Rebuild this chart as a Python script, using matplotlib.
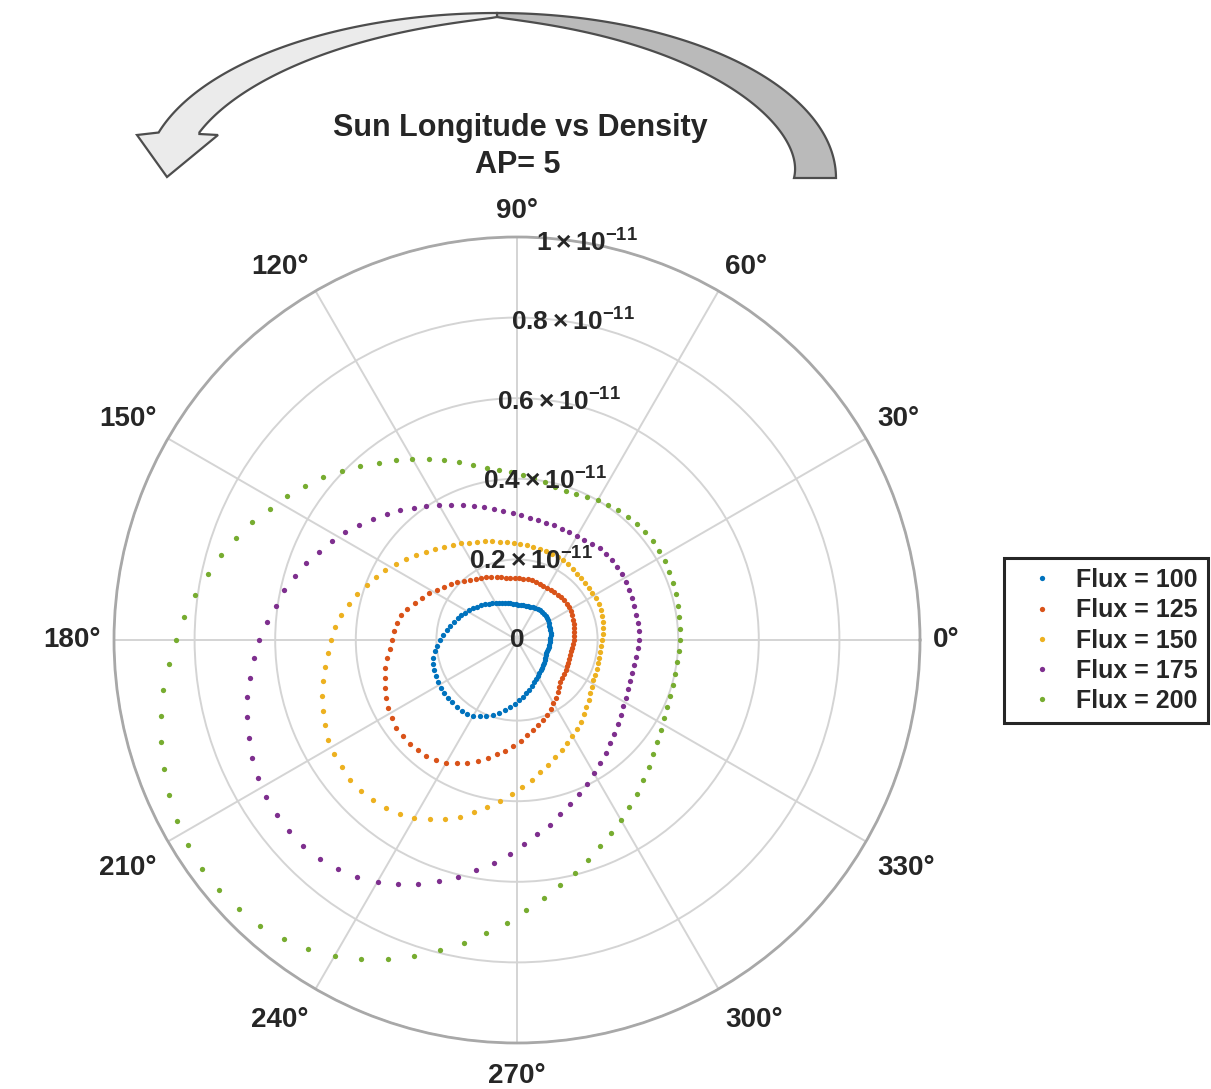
import numpy as np
import matplotlib
matplotlib.use('Agg')
import matplotlib.pyplot as plt
from matplotlib.patches import Polygon

plt.rcParams['font.family'] = ['Liberation Sans', 'DejaVu Sans']
plt.rcParams['mathtext.fontset'] = 'custom'
plt.rcParams['mathtext.rm'] = 'Liberation Sans:bold'
plt.rcParams['mathtext.it'] = 'Liberation Sans:bold'
plt.rcParams['mathtext.bf'] = 'Liberation Sans:bold'
plt.rcParams['mathtext.default'] = 'rm'

TXT = '#262626'

# sun longitude samples (deg), one point every 4 deg
sun_longitude = np.arange(0, 360, 4)

# density in units of 1e-11
flux_100 = [0.082, 0.083, 0.084, 0.085, 0.086, 0.087, 0.088, 0.090, 0.092, 0.093,
            0.094, 0.094, 0.094, 0.094, 0.093, 0.091, 0.090, 0.089, 0.088, 0.088,
            0.088, 0.088, 0.088, 0.089, 0.091, 0.093, 0.095, 0.097, 0.100, 0.102,
            0.106, 0.110, 0.114, 0.119, 0.124, 0.129, 0.134, 0.139, 0.145, 0.151,
            0.156, 0.163, 0.169, 0.176, 0.184, 0.191, 0.199, 0.205, 0.212, 0.216,
            0.219, 0.221, 0.223, 0.223, 0.224, 0.224, 0.223, 0.223, 0.222, 0.221,
            0.217, 0.211, 0.204, 0.196, 0.186, 0.176, 0.166, 0.158, 0.149, 0.141,
            0.134, 0.128, 0.120, 0.113, 0.107, 0.102, 0.098, 0.095, 0.093, 0.090,
            0.087, 0.085, 0.083, 0.081, 0.080, 0.080, 0.080, 0.081, 0.081, 0.081]
flux_125 = [0.141, 0.142, 0.143, 0.145, 0.147, 0.148, 0.150, 0.151, 0.153, 0.153,
            0.153, 0.153, 0.151, 0.150, 0.149, 0.149, 0.150, 0.151, 0.152, 0.153,
            0.153, 0.153, 0.153, 0.154, 0.155, 0.157, 0.160, 0.164, 0.169, 0.174,
            0.179, 0.184, 0.190, 0.197, 0.206, 0.215, 0.223, 0.233, 0.246, 0.258,
            0.270, 0.283, 0.294, 0.301, 0.306, 0.310, 0.316, 0.326, 0.335, 0.342,
            0.349, 0.356, 0.362, 0.367, 0.370, 0.370, 0.370, 0.368, 0.365, 0.359,
            0.351, 0.340, 0.328, 0.315, 0.301, 0.288, 0.277, 0.264, 0.251, 0.238,
            0.228, 0.218, 0.209, 0.200, 0.190, 0.181, 0.174, 0.164, 0.156, 0.150,
            0.146, 0.144, 0.142, 0.140, 0.138, 0.137, 0.136, 0.137, 0.138, 0.140]
flux_150 = [0.212, 0.213, 0.215, 0.217, 0.220, 0.221, 0.222, 0.221, 0.220, 0.220,
            0.220, 0.221, 0.222, 0.224, 0.226, 0.228, 0.230, 0.231, 0.232, 0.233,
            0.235, 0.237, 0.239, 0.242, 0.244, 0.248, 0.252, 0.257, 0.263, 0.269,
            0.277, 0.284, 0.293, 0.303, 0.315, 0.328, 0.341, 0.355, 0.370, 0.383,
            0.397, 0.412, 0.427, 0.440, 0.452, 0.462, 0.470, 0.481, 0.493, 0.504,
            0.512, 0.521, 0.530, 0.535, 0.538, 0.540, 0.539, 0.535, 0.529, 0.520,
            0.509, 0.495, 0.479, 0.461, 0.440, 0.422, 0.402, 0.383, 0.365, 0.349,
            0.333, 0.320, 0.305, 0.295, 0.285, 0.275, 0.267, 0.257, 0.248, 0.239,
            0.232, 0.225, 0.219, 0.214, 0.211, 0.210, 0.209, 0.209, 0.209, 0.210]
flux_175 = [0.303, 0.303, 0.303, 0.303, 0.303, 0.303, 0.305, 0.306, 0.308, 0.308,
            0.308, 0.308, 0.306, 0.303, 0.299, 0.298, 0.297, 0.298, 0.299, 0.300,
            0.303, 0.305, 0.310, 0.315, 0.321, 0.329, 0.339, 0.349, 0.361, 0.373,
            0.387, 0.402, 0.417, 0.433, 0.449, 0.467, 0.484, 0.504, 0.521, 0.538,
            0.556, 0.573, 0.591, 0.605, 0.623, 0.639, 0.654, 0.670, 0.685, 0.697,
            0.708, 0.720, 0.728, 0.733, 0.737, 0.739, 0.737, 0.730, 0.722, 0.708,
            0.692, 0.675, 0.653, 0.629, 0.605, 0.579, 0.556, 0.531, 0.506, 0.485,
            0.465, 0.445, 0.428, 0.412, 0.397, 0.382, 0.368, 0.357, 0.345, 0.335,
            0.326, 0.318, 0.311, 0.305, 0.301, 0.299, 0.298, 0.298, 0.299, 0.301]
flux_200 = [0.405, 0.405, 0.406, 0.408, 0.411, 0.413, 0.414, 0.416, 0.416, 0.416,
            0.416, 0.413, 0.411, 0.408, 0.403, 0.400, 0.396, 0.392, 0.390, 0.392,
            0.397, 0.403, 0.409, 0.416, 0.423, 0.434, 0.448, 0.464, 0.481, 0.500,
            0.519, 0.538, 0.558, 0.582, 0.605, 0.628, 0.650, 0.672, 0.695, 0.720,
            0.742, 0.764, 0.784, 0.806, 0.829, 0.846, 0.866, 0.886, 0.903, 0.918,
            0.933, 0.945, 0.955, 0.962, 0.965, 0.965, 0.960, 0.954, 0.940, 0.926,
            0.904, 0.881, 0.854, 0.825, 0.794, 0.763, 0.732, 0.702, 0.670, 0.643,
            0.618, 0.596, 0.573, 0.552, 0.532, 0.515, 0.499, 0.484, 0.468, 0.454,
            0.440, 0.429, 0.421, 0.412, 0.407, 0.404, 0.402, 0.402, 0.401, 0.402]

series = [flux_100, flux_125, flux_150, flux_175, flux_200]
labels = ['Flux = 100', 'Flux = 125', 'Flux = 150', 'Flux = 175', 'Flux = 200']
colors = ['#0072BD', '#D95319', '#EDB120', '#7E2F8E', '#77AC30']

r_ticks = [0.2, 0.4, 0.6, 0.8, 1.0]
r_ticklabels = [r'$0.2\times10^{-11}$', r'$0.4\times10^{-11}$', r'$0.6\times10^{-11}$',
                r'$0.8\times10^{-11}$', r'$1\times10^{-11}$']
theta_ticks = list(range(0, 360, 30))

W, H = 1211, 1089
fig = plt.figure(figsize=(W / 100, H / 100), dpi=100)

# polar axes: centre (517, 640) px, radius 403 px
cx, cy, R = 517, 640, 403
ax = fig.add_axes([(cx - R) / W, (H - cy - R) / H, 2 * R / W, 2 * R / H], projection='polar')
ax.set_zorder(2)

th = np.deg2rad(sun_longitude)
for vals, lab, col in zip(series, labels, colors):
    ax.plot(th, vals, linestyle='none', marker='o', ms=3.8, mew=0, color=col, label=lab)

ax.set_rlim(0, 1.0)
ax.set_rticks(r_ticks)
ax.set_yticklabels([])
ax.set_thetagrids(theta_ticks, [''] * len(theta_ticks))
ax.grid(True, color='#d4d4d4', linewidth=1.4)
ax.spines['polar'].set_color('#a8a8a8')
ax.spines['polar'].set_linewidth(2.0)
ax.tick_params(length=0)

# radial labels along 80 deg
ax.text(np.deg2rad(80), 0, '0', ha='center', va='center', fontsize=19,
        fontweight='bold', color=TXT)
for rv, lab in zip(r_ticks, r_ticklabels):
    ax.text(np.deg2rad(80), rv, lab, ha='center', va='center', fontsize=19, color=TXT)

# angle labels, aligned like matlab (left/right/top/bottom by quadrant)
for a in theta_ticks:
    c, s = np.cos(np.deg2rad(a)), np.sin(np.deg2rad(a))
    ha = 'left' if c > 0.01 else ('right' if c < -0.01 else 'center')
    va = 'bottom' if s > 0.01 else ('top' if s < -0.01 else 'center')
    off = 13
    dy = off * s - (7 if s < -0.01 else 0)
    ax.annotate(f'{a}°', xy=(np.deg2rad(a), 1.0), xycoords='data', xytext=(off * c, dy),
                textcoords='offset pixels', ha=ha, va=va, fontsize=20,
                fontweight='bold', color=TXT, annotation_clip=False)

leg = ax.legend(loc='center left', bbox_to_anchor=(1004 / W, 1 - 640.5 / H),
                bbox_transform=fig.transFigure, frameon=True, fancybox=False,
                framealpha=1, edgecolor=TXT, handlelength=2.2, handletextpad=0.3,
                borderpad=0.4, labelspacing=0.25, borderaxespad=0,
                prop={'size': 18, 'weight': 'bold'}, labelcolor=TXT)
leg.get_frame().set_linewidth(2.2)

# overlay in pixel coords for title and the curved arrow
ov = fig.add_axes([0, 0, 1, 1])
ov.set_zorder(1)
ov.set_xlim(0, W)
ov.set_ylim(H, 0)
ov.axis('off')

ov.text(520, 128, 'Sun Longitude vs Density', ha='center', va='center',
        fontsize=22, fontweight='bold', color=TXT)
ov.text(518, 165, 'AP= 5', ha='center', va='center', fontsize=22,
        fontweight='bold', color=TXT)


def rim(phi_deg):
    # outer edge of the arrow band (half ellipse, a bit wider on the left)
    p = np.deg2rad(phi_deg)
    a = np.where(phi_deg < 90, 339.0, 352.0)
    b = 165.0
    x = 497 + a * np.cos(p)
    y = 178 - b * np.sin(p)
    nx, ny = np.cos(p) / a, -np.sin(p) / b
    nn = np.hypot(nx, ny)
    return x, y, nx / nn, ny / nn


# right (dark) part of the band
phi = np.linspace(0, 90, 80)
x, y, nx, ny = rim(phi)
w = 4 + 38 * (1 - phi / 90) ** 0.8
dark = np.vstack([np.column_stack([x, y]),
                  np.column_stack([x - w * nx, y - w * ny])[::-1]])
ov.add_patch(Polygon(dark, closed=True, facecolor='#bababa', edgecolor='#4d4d4d',
                     linewidth=1.6))

# left (light) part with the arrow head
phi = np.linspace(90, 164, 90)
x, y, nx, ny = rim(phi)
w = 4 + 31 * ((phi - 90) / 74) ** 0.8
xi, yi = x - w * nx, y - w * ny
keep = yi <= 133
inner = np.column_stack([xi[keep], yi[keep]])
head = np.array([(137, 135), (167, 177), (218, 135), (inner[-1, 0], 134)])
light = np.vstack([np.column_stack([x, y]), head, inner[::-1]])
ov.add_patch(Polygon(light, closed=True, facecolor='#ebebeb', edgecolor='#4d4d4d',
                     linewidth=1.6, joinstyle='miter'))

fig.savefig('out.png', dpi=100)
